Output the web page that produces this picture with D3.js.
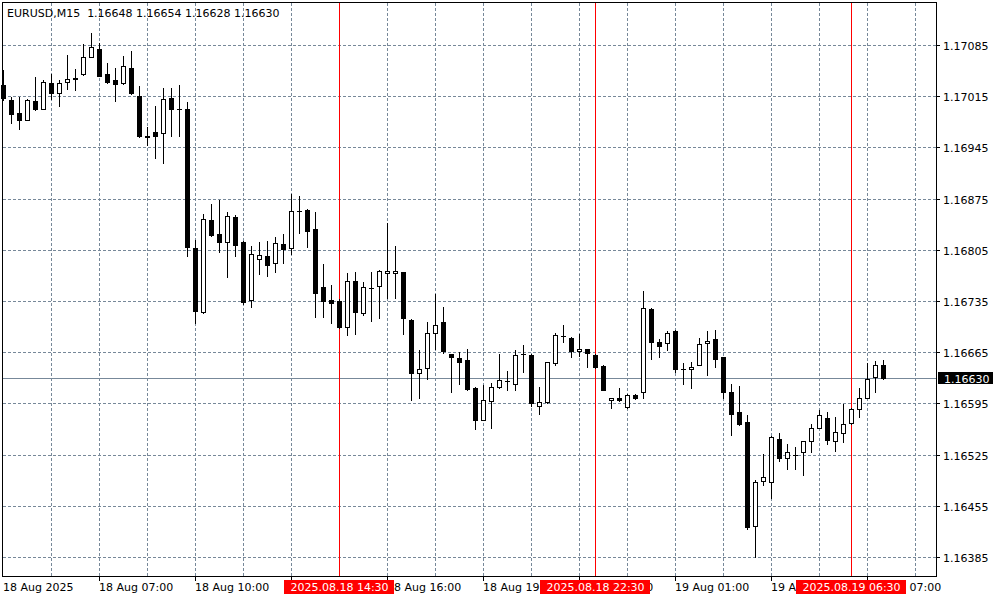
<!DOCTYPE html>
<html><head><meta charset="utf-8">
<script src="https://cdn.jsdelivr.net/npm/d3@7"></script>
<style>
body{margin:0;background:#fff;}
svg{display:block;}
text{font-family:"DejaVu Sans",sans-serif;font-size:11px;}
</style>
</head><body>
<svg id="chart" width="1000" height="600"></svg>
<script>
const title = "EURUSD,M15  1.16648 1.16654 1.16628 1.16630";
const openP = [1.17030,1.17010,1.16992,1.16983,1.17008,1.16998,1.17033,1.17020,1.17034,1.17039,
1.17045,1.17069,1.17080,1.17045,1.17037,1.17033,1.17054,1.17015,1.16961,1.16966,
1.16964,1.17012,1.16998,1.16997,1.16808,1.16720,1.16846,1.16827,1.16816,1.16850,
1.16815,1.16737,1.16793,1.16797,1.16787,1.16813,1.16807,1.16858,1.16860,1.16833,
1.16754,1.16737,1.16735,1.16700,1.16762,1.16719,1.16753,1.16756,1.16773,1.16773,
1.16774,1.16709,1.16636,1.16644,1.16691,1.16706,1.16662,1.16657,1.16655,1.16616,
1.16573,1.16598,1.16618,1.16625,1.16622,1.16663,1.16661,1.16592,1.16597,1.16650,
1.16687,1.16685,1.16667,1.16669,1.16661,1.16646,1.16599,1.16602,1.16590,1.16607,
1.16610,1.16724,1.16679,1.16677,1.16694,1.16642,1.16642,1.16648,1.16677,1.16683,
1.16658,1.16610,1.16583,1.16569,1.16428,1.16489,1.16487,1.16546,1.16520,1.16524,
1.16528,1.16543,1.16562,1.16575,1.16543,1.16555,1.16568,1.16588,1.16603,1.16631,1.16648];
const highP = [1.17051,1.17014,1.17014,1.17011,1.17041,1.17037,1.17045,1.17037,1.17071,1.17052,
1.17086,1.17102,1.17088,1.17061,1.17053,1.17070,1.17077,1.17029,1.16973,1.17002,
1.17026,1.17026,1.17030,1.17007,1.16819,1.16854,1.16868,1.16873,1.16857,1.16853,
1.16817,1.16810,1.16815,1.16817,1.16823,1.16827,1.16881,1.16879,1.16861,1.16856,
1.16786,1.16757,1.16738,1.16773,1.16774,1.16761,1.16774,1.16777,1.16842,1.16810,
1.16775,1.16710,1.16668,1.16706,1.16744,1.16727,1.16663,1.16665,1.16670,1.16617,
1.16620,1.16623,1.16663,1.16639,1.16668,1.16675,1.16662,1.16617,1.16652,1.16691,
1.16702,1.16686,1.16690,1.16670,1.16662,1.16647,1.16603,1.16616,1.16608,1.16608,
1.16749,1.16725,1.16683,1.16694,1.16695,1.16650,1.16652,1.16684,1.16694,1.16696,
1.16659,1.16622,1.16619,1.16579,1.16490,1.16526,1.16550,1.16555,1.16540,1.16535,
1.16544,1.16567,1.16586,1.16583,1.16577,1.16594,1.16589,1.16616,1.16650,1.16653,1.16654];
const lowP = [1.17010,1.16979,1.16970,1.16982,1.16996,1.16997,1.17011,1.17002,1.17025,1.17023,
1.17044,1.17068,1.17042,1.17033,1.17009,1.17032,1.17018,1.16959,1.16948,1.16931,
1.16923,1.16960,1.16961,1.16797,1.16705,1.16719,1.16824,1.16802,1.16768,1.16796,
1.16731,1.16727,1.16772,1.16769,1.16775,1.16787,1.16799,1.16828,1.16809,1.16713,
1.16713,1.16705,1.16698,1.16688,1.16690,1.16716,1.16707,1.16712,1.16739,1.16739,
1.16690,1.16599,1.16603,1.16628,1.16669,1.16664,1.16610,1.16622,1.16614,1.16560,
1.16572,1.16562,1.16616,1.16614,1.16614,1.16638,1.16591,1.16581,1.16596,1.16648,
1.16679,1.16659,1.16660,1.16645,1.16644,1.16613,1.16589,1.16598,1.16589,1.16601,
1.16603,1.16656,1.16658,1.16668,1.16638,1.16622,1.16616,1.16647,1.16634,1.16645,
1.16602,1.16552,1.16566,1.16423,1.16385,1.16484,1.16466,1.16516,1.16506,1.16506,
1.16497,1.16528,1.16561,1.16540,1.16530,1.16542,1.16567,1.16577,1.16602,1.16611,1.16628];
const closeP = [1.17012,1.16990,1.16983,1.17010,1.16998,1.17034,1.17020,1.17033,1.17038,1.17040,
1.17068,1.17082,1.17043,1.17035,1.17031,1.17056,1.17019,1.16960,1.16959,1.16961,
1.17011,1.16998,1.16998,1.16809,1.16722,1.16847,1.16825,1.16815,1.16851,1.16812,
1.16734,1.16799,1.16798,1.16784,1.16814,1.16806,1.16858,1.16858,1.16831,1.16746,
1.16735,1.16732,1.16699,1.16762,1.16720,1.16754,1.16753,1.16776,1.16776,1.16776,
1.16712,1.16637,1.16642,1.16691,1.16702,1.16667,1.16658,1.16652,1.16615,1.16573,
1.16600,1.16617,1.16627,1.16625,1.16661,1.16663,1.16596,1.16597,1.16651,1.16689,
1.16687,1.16667,1.16670,1.16664,1.16645,1.16614,1.16602,1.16599,1.16607,1.16603,
1.16726,1.16679,1.16674,1.16691,1.16642,1.16642,1.16645,1.16676,1.16681,1.16656,
1.16611,1.16581,1.16567,1.16426,1.16488,1.16494,1.16549,1.16521,1.16528,1.16524,
1.16543,1.16562,1.16579,1.16545,1.16556,1.16567,1.16588,1.16603,1.16629,1.16648,1.16630];
const priceTicks = [1.17085,1.17015,1.16945,1.16875,1.16805,1.16735,1.16665,1.16595,1.16525,1.16455,1.16385];
const priceTickLabels = ["1.17085","1.17015","1.16945","1.16875","1.16805","1.16735","1.16665","1.16595","1.16525","1.16455","1.16385"];
const timeTickIndex = [0,12,24,36,48,60,72,84,96,108];
const timeTickLabels = ["18 Aug 2025","18 Aug 07:00","18 Aug 10:00","18 Aug 13:00","18 Aug 16:00","18 Aug 19:00","18 Aug 22:00","19 Aug 01:00","19 Aug 04:00","19 Aug 07:00"];
const gridIndex = [6,12,18,24,30,36,42,48,54,60,66,72,78,84,90,96,102,108,114];
const markerIndex = [42,74,106];
const markerLabels = ["2025.08.18 14:30","2025.08.18 22:30","2025.08.19 06:30"];
const lastPrice = 1.16630;
const lastPriceLabel = "1.16630";

const svg = d3.select("#chart");
const L = 3, R = 936, T = 3, B = 577;
const x = d3.scaleLinear().domain([0, 110]).range([3.5, 883.5]);
const y = d3.scaleLinear().domain([1.163577, 1.171424]).range([577, 3]);
const py = v => Math.round(y(v)) + 0.5;
const gridColor = "#778899";
const boxHalf = 55;

svg.append("rect").attr("width",1000).attr("height",600).attr("fill","#fff");

// horizontal grid
svg.append("g").selectAll("line").data(priceTicks).join("line")
  .attr("x1", L).attr("x2", R).attr("y1", d => py(d)).attr("y2", d => py(d))
  .attr("stroke", gridColor).attr("stroke-dasharray","3,2");
// vertical grid
svg.append("g").selectAll("line").data(gridIndex).join("line")
  .attr("x1", d => x(d)).attr("x2", d => x(d)).attr("y1", T).attr("y2", B)
  .attr("stroke", gridColor).attr("stroke-dasharray","3,2");

// last price line
svg.append("line").attr("x1", L).attr("x2", R).attr("y1", py(lastPrice)).attr("y2", py(lastPrice))
  .attr("stroke", gridColor);

// marker lines
svg.append("g").selectAll("line").data(markerIndex).join("line")
  .attr("x1", d => x(d)).attr("x2", d => x(d)).attr("y1", T).attr("y2", B)
  .attr("stroke", "#ff0000");

// candles
const idx = d3.range(openP.length);
const cg = svg.append("g");
cg.selectAll("line.wick").data(idx).join("line").attr("class","wick")
  .attr("x1", i => x(i)).attr("x2", i => x(i))
  .attr("y1", i => Math.round(y(highP[i]))).attr("y2", i => Math.round(y(lowP[i])) + 1)
  .attr("stroke", "#000");
idx.forEach(i => {
  const yo = Math.round(y(openP[i])), yc = Math.round(y(closeP[i]));
  const top = Math.min(yo, yc), h = Math.abs(yo - yc);
  const bull = closeP[i] >= openP[i];
  if (h === 0) {
    cg.append("line").attr("x1", x(i) - 2.5).attr("x2", x(i) + 2.5)
      .attr("y1", top + 0.5).attr("y2", top + 0.5).attr("stroke", "#000");
  } else {
    cg.append("rect").attr("x", x(i) - 2).attr("y", top + 0.5)
      .attr("width", 4).attr("height", h)
      .attr("fill", bull ? "#fff" : "#000").attr("stroke", "#000");
  }
});

// border
svg.append("rect").attr("x", 2.5).attr("y", 2.5).attr("width", R - 2).attr("height", B - 3)
  .attr("fill","none").attr("stroke","#000");

// price axis
const pa = svg.append("g");
pa.selectAll("line").data(priceTicks).join("line")
  .attr("x1", R).attr("x2", R + 4).attr("y1", d => py(d)).attr("y2", d => py(d)).attr("stroke","#000");
pa.selectAll("text").data(priceTicks).join("text")
  .attr("x", 943).attr("y", d => py(d) + 4).attr("fill","#000")
  .text((d, k) => priceTickLabels[k]);

// time axis ticks
const ta = svg.append("g");
ta.selectAll("line").data(timeTickIndex.filter(d => d > 0)).join("line")
  .attr("x1", d => x(d)).attr("x2", d => x(d)).attr("y1", B).attr("y2", B + 4).attr("stroke","#000");

// time labels: only the part not hidden behind the red marker boxes is drawn
const boxes = markerIndex.map(m => [x(m) - boxHalf - 0.5, x(m) + boxHalf - 0.5]);
timeTickIndex.forEach((d, k) => {
  const label = timeTickLabels[k];
  const x0 = d === 0 ? 3 : x(d) - 0.5;
  const t = ta.append("text").attr("x", x0).attr("y", 591).attr("fill", "#000").text(label);
  const node = t.node();
  const n = label.length;
  const vis = [];
  for (let c = 0; c < n; c++) {
    const s = x0 + node.getSubStringLength(0, c);
    const e = x0 + node.getSubStringLength(0, c + 1);
    vis.push(!boxes.some(b => s > b[0] - 2 && e < b[1] + 2.5));
  }
  const runs = [];
  let c = 0;
  while (c < n) {
    if (vis[c]) { let e = c; while (e < n && vis[e]) e++; runs.push([c, e]); c = e; } else c++;
  }
  const offs = runs.map(([s]) => s > 0 ? node.getSubStringLength(0, s) : 0);
  t.remove();
  runs.forEach(([s, e], r) => {
    const frag = label.slice(s, e);
    if (!frag.trim()) return;
    ta.append("text").attr("x", x0 + offs[r]).attr("y", 591).attr("fill", "#000")
      .style("white-space","pre").text(frag);
  });
});

// marker labels
const mg = svg.append("g");
mg.selectAll("rect").data(markerIndex).join("rect")
  .attr("x", d => x(d) - boxHalf - 0.5).attr("y", 580).attr("width", 2 * boxHalf).attr("height", 14).attr("fill","#ff0000");
mg.selectAll("text").data(markerIndex).join("text")
  .attr("x", d => x(d)).attr("y", 591).attr("text-anchor","middle").attr("fill","#fff")
  .text((d, k) => markerLabels[k]);

// last price label
svg.append("rect").attr("x", 938).attr("y", py(lastPrice) - 6.5).attr("width", 55).attr("height", 12).attr("fill","#000");
svg.append("text").attr("x", 944).attr("y", py(lastPrice) + 4).attr("fill","#fff").text(lastPriceLabel);

// title
svg.append("text").attr("x", 7).attr("y", 17).attr("fill","#000").style("white-space","pre").text(title);
</script>
</body></html>
